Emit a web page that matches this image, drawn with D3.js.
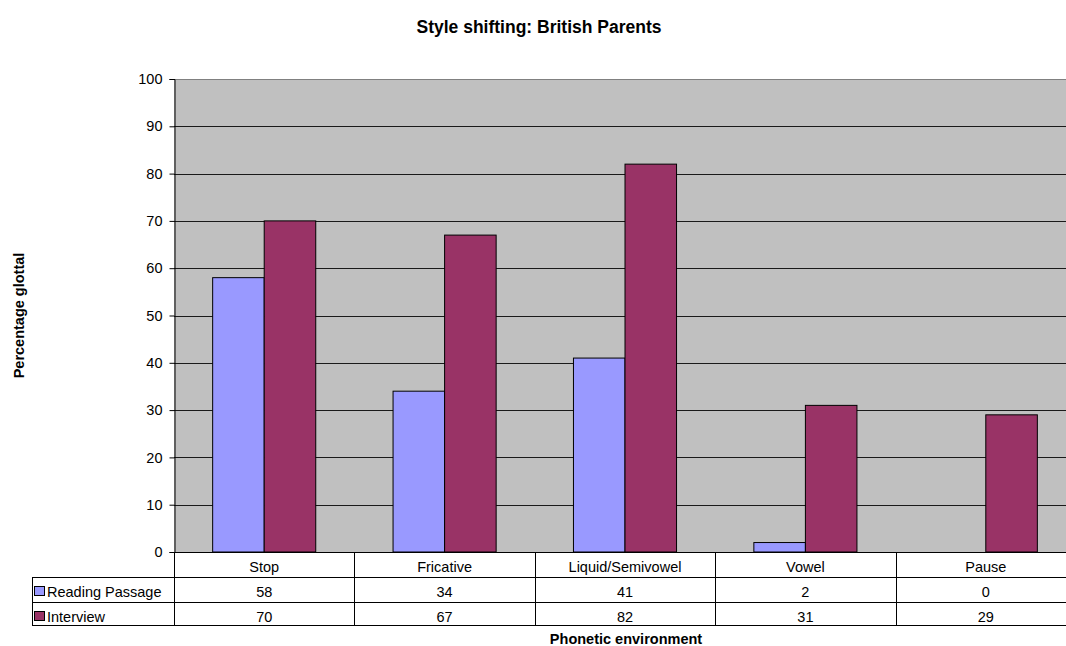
<!DOCTYPE html>
<html>
<head>
<meta charset="utf-8">
<script src="https://cdn.jsdelivr.net/npm/d3@7"></script>
<style>
  html, body { margin: 0; padding: 0; background: #fff; overflow: hidden; }
  svg { display: block; font-family: "Liberation Sans", Arial, sans-serif; }
</style>
</head>
<body>
<svg id="chart" width="1066" height="646"></svg>
<script>
// Categories and series values
const categories = ["Stop", "Fricative", "Liquid/Semivowel", "Vowel", "Pause"];
const readingPassage = [58, 34, 41, 2, 0];
const interview = [70, 67, 82, 31, 29];
const seriesNames = ["Reading Passage", "Interview"];
const yTicks = [0, 10, 20, 30, 40, 50, 60, 70, 80, 90, 100];

const colors = ["#9999FF", "#993366"];
const series = [readingPassage, interview];

const svg = d3.select("#chart");
const bodyFont = 14.5;

// Plot region (extends slightly past the right edge of the view)
const plotL = 174, plotR = 1076, plotT = 79, plotB = 552;
const rowH = [25, 25, 23];           // category row, then one row per series
const tableLeft = 32;

const x = d3.scaleBand().domain(categories).range([plotL, plotR]).paddingInner(0).paddingOuter(0);
const y = d3.scaleLinear().domain([0, 100]).range([plotB, plotT]);

// Bars: gap width 150% of a bar
const bandW = x.bandwidth();
const barW = bandW / 3.5;
const gap = (bandW - 2 * barW) / 2;

// Plot background
svg.append("rect")
  .attr("x", plotL).attr("y", plotT)
  .attr("width", plotR - plotL).attr("height", plotB - plotT)
  .attr("fill", "#C0C0C0");

// Gridlines
svg.append("g").selectAll("line")
  .data(yTicks.filter(d => d > 0 && d < 100))
  .join("line")
  .attr("x1", plotL).attr("x2", plotR)
  .attr("y1", d => Math.round(y(d)) + 0.5).attr("y2", d => Math.round(y(d)) + 0.5)
  .attr("stroke", "#1a1a1a").attr("stroke-width", 1.2);

// Plot top border
svg.append("line")
  .attr("x1", plotL).attr("x2", plotR)
  .attr("y1", plotT + 0.5).attr("y2", plotT + 0.5)
  .attr("stroke", "#808080");

// Bars
series.forEach((vals, si) => {
  svg.append("g").selectAll("rect")
    .data(categories.map((c, i) => ({ c, v: vals[i] })))
    .join("rect")
    .attr("x", d => x(d.c) + gap + si * barW)
    .attr("y", d => y(d.v))
    .attr("width", barW)
    .attr("height", d => plotB - y(d.v))
    .attr("fill", colors[si])
    .attr("stroke", "#000")
    .attr("stroke-width", 1)
    .attr("visibility", d => d.v > 0 ? "visible" : "hidden");
});

// Y axis
const yAxis = d3.axisLeft(y).tickValues(yTicks).tickSize(5).tickPadding(7);
const yg = svg.append("g").attr("transform", `translate(${plotL + 0.5},0)`).call(yAxis);
yg.select(".domain").attr("stroke", "#000");
yg.selectAll(".tick line").attr("stroke", "#000");
yg.selectAll(".tick text").attr("font-size", bodyFont).attr("fill", "#000")
  .attr("font-family", "'Liberation Sans', Arial, sans-serif");

// Data table below the axis
const rowY = [plotB, plotB + rowH[0], plotB + rowH[0] + rowH[1], plotB + rowH[0] + rowH[1] + rowH[2]];
const tg = svg.append("g").attr("stroke", "#000").attr("stroke-width", 1);

// horizontal lines
tg.append("line").attr("x1", plotL).attr("x2", plotR).attr("y1", rowY[0] + 0.5).attr("y2", rowY[0] + 0.5);
[1, 2, 3].forEach(r => {
  tg.append("line").attr("x1", tableLeft).attr("x2", plotR)
    .attr("y1", rowY[r] + 0.5).attr("y2", rowY[r] + 0.5);
});
// vertical lines at category boundaries
const boundaries = categories.map(c => x(c)).concat([plotR]);
tg.selectAll("line.v").data(boundaries).join("line")
  .attr("class", "v")
  .attr("x1", d => Math.round(d) + 0.5).attr("x2", d => Math.round(d) + 0.5)
  .attr("y1", rowY[0]).attr("y2", rowY[3] + 1);
// legend column left edge
tg.append("line").attr("x1", tableLeft + 0.5).attr("x2", tableLeft + 0.5)
  .attr("y1", rowY[1]).attr("y2", rowY[3] + 1);

// category labels
svg.append("g").selectAll("text").data(categories).join("text")
  .attr("x", d => x(d) + bandW / 2)
  .attr("y", rowY[0] + 20)
  .attr("text-anchor", "middle")
  .attr("font-size", bodyFont)
  .text(d => d);

// series rows
series.forEach((vals, si) => {
  const base = rowY[si + 1];
  svg.append("g").selectAll("text").data(vals).join("text")
    .attr("x", (d, i) => x(categories[i]) + bandW / 2)
    .attr("y", base + 20)
    .attr("text-anchor", "middle")
    .attr("font-size", bodyFont)
    .text(d => d);
  // legend key
  svg.append("rect")
    .attr("x", tableLeft + 2.5).attr("y", base + 9.5)
    .attr("width", 10).attr("height", 9)
    .attr("fill", colors[si]).attr("stroke", "#000");
  svg.append("text")
    .attr("x", tableLeft + 15).attr("y", base + 20)
    .attr("font-size", bodyFont)
    .text(seriesNames[si]);
});

// Titles
svg.append("text")
  .attr("x", 539).attr("y", 33)
  .attr("text-anchor", "middle")
  .attr("font-size", 17.5).attr("font-weight", "bold")
  .text("Style shifting: British Parents");

svg.append("text")
  .attr("transform", `translate(24,${(plotT + plotB) / 2}) rotate(-90)`)
  .attr("text-anchor", "middle")
  .attr("font-size", 14.5).attr("font-weight", "bold")
  .text("Percentage glottal");

svg.append("text")
  .attr("x", 626).attr("y", 644)
  .attr("text-anchor", "middle")
  .attr("font-size", 14.5).attr("font-weight", "bold")
  .text("Phonetic environment");
</script>
</body>
</html>
